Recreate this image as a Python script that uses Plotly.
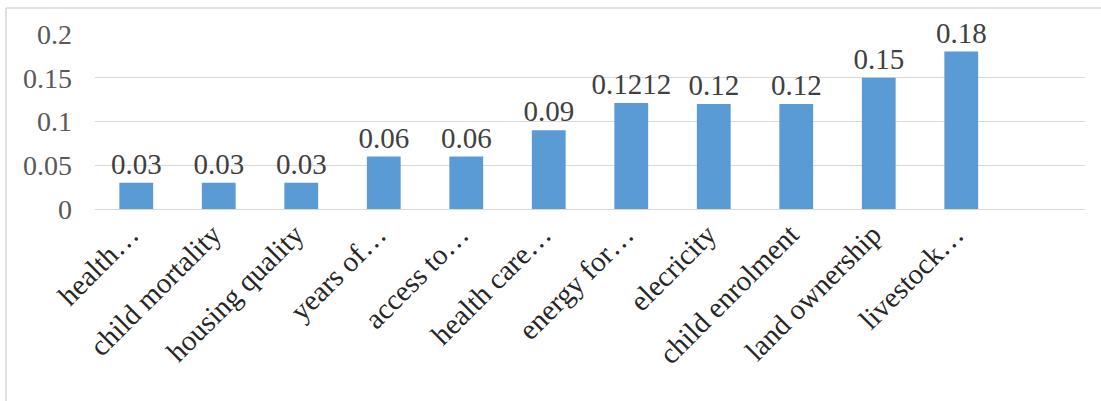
import plotly.graph_objects as go

# Indicator weights
categories = [
    "health…", "child mortality", "housing quality", "years of…", "access to…",
    "health care…", "energy for…", "elecricity", "child enrolment",
    "land ownership", "livestock…",
]
values = [0.03, 0.03, 0.03, 0.06, 0.06, 0.09, 0.1212, 0.12, 0.12, 0.15, 0.18]
y_ticks = [0, 0.05, 0.1, 0.15, 0.2]
y_tick_labels = ["0", "0.05", "0.1", "0.15", "0.2"]

SERIF = "Liberation Serif"
BAR_COLOR = "#5B9BD5"
GRID_COLOR = "#D9D9D9"

fig = go.Figure(
    go.Bar(
        x=categories,
        y=values,
        marker=dict(color=BAR_COLOR, line=dict(width=0)),
        width=0.41,
        text=[f"{v:g}" for v in values],
        textposition="outside",
        constraintext="none",
        cliponaxis=False,
        textfont=dict(family=SERIF, size=29, color="#404040"),
        hoverinfo="x+y",
    )
)

fig.update_layout(
    width=1101,
    height=401,
    autosize=False,
    margin=dict(l=95, r=16, t=34, b=192),
    paper_bgcolor="white",
    plot_bgcolor="white",
    showlegend=False,
    font=dict(family=SERIF),
    xaxis=dict(
        type="category",
        range=[-0.5, 11.5],
        tickangle=-45,
        showgrid=False,
        showline=True,
        linecolor=GRID_COLOR,
        linewidth=1,
        ticks="",
        ticklabelshift=-6,
        ticklabelstandoff=-4,
        tickfont=dict(family=SERIF, size=29, color="#262626"),
    ),
    yaxis=dict(
        range=[0, 0.2],
        tickvals=y_ticks,
        ticktext=y_tick_labels,
        showgrid=True,
        gridcolor=GRID_COLOR,
        gridwidth=1,
        zeroline=False,
        showline=False,
        ticks="",
        ticklabelstandoff=22,
        tickfont=dict(family=SERIF, size=28, color="#595959"),
    ),
    # chart frame (left and top edges)
    shapes=[
        dict(type="line", xref="paper", yref="paper", x0=-0.0899, x1=-0.0899,
             y0=1.149, y1=-1.2, line=dict(color="#D9D9D9", width=1.5)),
        dict(type="line", xref="paper", yref="paper", x0=-0.0899, x1=1.1,
             y0=1.149, y1=1.149, line=dict(color="#D9D9D9", width=1.5)),
    ],
)

fig.write_html("out.html")
